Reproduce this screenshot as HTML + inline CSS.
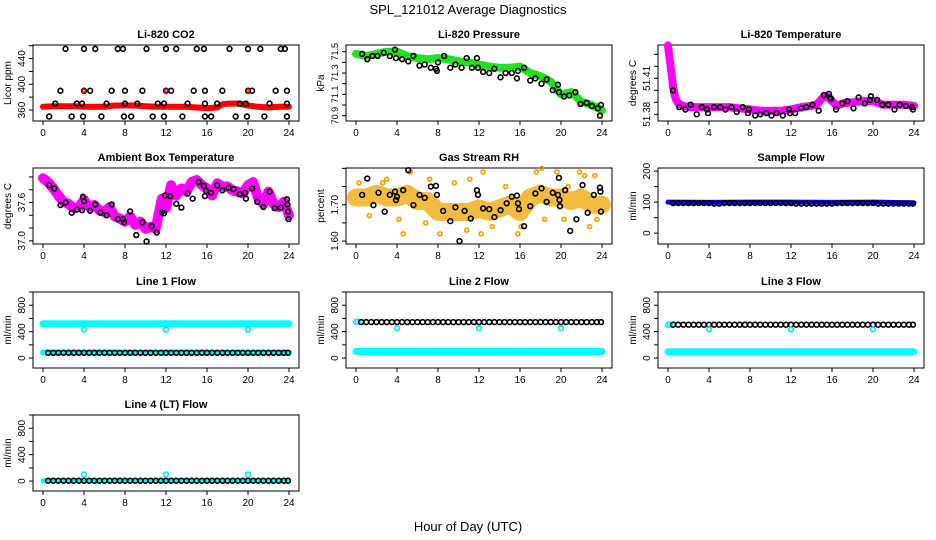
<!DOCTYPE html>
<html><head><meta charset="utf-8">
<style>
html,body{margin:0;padding:0;background:#fff;}
svg{display:block;font-family:"Liberation Sans",sans-serif;}
</style></head>
<body>
<svg id="chart" width="936" height="540" viewBox="0 0 936 540" xmlns="http://www.w3.org/2000/svg">
<rect x="0" y="0" width="936" height="540" fill="#fff"/>
<text x="468" y="14" text-anchor="middle" font-size="13">SPL_121012  Average Diagnostics</text>
<text x="468" y="531" text-anchor="middle" font-size="13">Hour of Day (UTC)</text>
</svg>
<script>
// ---------- DATA ----------
const xTicks = [0,4,8,12,16,20,24];
// CO2
const co2BandT = [0,1,2,3,4,5,6,7,8,9,10,11,12,13,14,15,16,17,17.5,18,19,20,21,22,23,24];
const co2BandV = [365,366,366,366,365,365,365,367,367,367,366,365,365,365,365,364,363,364,369,370,370,367,365,364,365,365];
const co2T = [2.2,4,5.1,7.3,7.8,10.1,12,13,15,15.7,18.2,20,21.2,23.2,23.6,
  1.7,4,4.6,6.7,8,9.7,12,12.5,14.7,15.8,17.5,20,20.4,22.7,23.8,
  1.2,3.3,3.8,6.2,8,9.2,11.2,11.8,14.1,15.8,17,19.2,19.8,22.1,23.8,
  0.6,2.8,3.9,5.7,7.9,8.6,10.7,11.8,13.6,15.8,16.4,18.8,19.9,21.6,23.8];
const co2V = [455,455,455,455,455,455,455,455,455,455,455,455,455,455,455,
  390,390,390,390,390,390,390,390,390,390,390,390,390,390,390,
  370,370,370,370,370,370,370,370,370,370,370,370,370,370,370,
  350,350,350,350,350,350,350,350,350,350,350,350,350,350,350];
const co2RedT = [4,12,20];
const co2RedV = [390,390,390];
// Pressure
const presBandT = [0,1,2,3,4,5,6,7,8,9,10,11,12,13,14,15,16,17,18,19,20,21,22,23,24];
const presBandV = [71.48,71.46,71.48,71.50,71.50,71.46,71.44,71.43,71.44,71.43,71.41,71.40,71.38,71.36,71.35,71.35,71.36,71.30,71.27,71.22,71.10,71.12,71.03,71.00,70.95];
const presT = [0.6,1.1,1.6,2.1,2.7,3.3,3.8,3.9,4.5,5.1,5.6,6.2,6.7,7.3,7.8,7.9,8.0,8.6,9.2,9.7,10.3,10.8,11.3,11.8,11.9,12.4,13.0,13.5,14.1,14.6,15.2,15.7,15.8,16.4,17.0,17.5,18.1,18.6,19.2,19.7,19.8,20.3,20.8,21.4,21.9,22.5,23.0,23.6,23.8,23.9];
const presV = [71.48,71.43,71.46,71.46,71.49,71.46,71.52,71.44,71.43,71.41,71.46,71.37,71.38,71.35,71.34,71.32,71.40,71.46,71.35,71.38,71.35,71.44,71.35,71.44,71.35,71.31,71.30,71.34,71.26,71.30,71.30,71.25,71.32,71.35,71.23,71.25,71.20,71.24,71.14,71.19,71.12,71.08,71.09,71.12,71.01,71.02,70.99,70.97,70.90,71.00];
// Li-820 Temperature
const tempBandT = [0,0.1,0.2,0.3,0.4,0.5,0.6,0.8,1,1.5,2,3,4,5,6,7,8,9,10,11,12,13,14,14.5,15,15.5,16,16.5,17,18,19,19.5,20,21,22,23,24];
const tempBandV = [51.4375,51.43,51.424,51.417,51.41,51.403,51.398,51.392,51.389,51.387,51.386,51.386,51.386,51.386,51.386,51.385,51.384,51.383,51.383,51.383,51.384,51.386,51.387,51.388,51.393,51.395,51.391,51.387,51.389,51.390,51.391,51.391,51.391,51.388,51.388,51.388,51.387];
const tempT = [0.5,1.1,1.7,2.2,2.8,3.3,3.8,3.9,4.5,5.1,5.6,6.2,6.7,7.3,7.8,7.9,8.5,9.0,9.6,10.1,10.6,11.2,11.8,11.9,12.4,13,13.5,14.1,14.7,15.2,15.7,15.8,15.9,16.4,17,17.5,18.1,18.6,19.2,19.7,19.8,20.4,20.9,21.5,22.1,22.6,23.2,23.8,23.9];
const tempV = [51.400,51.386,51.384,51.388,51.380,51.386,51.384,51.381,51.386,51.386,51.384,51.386,51.382,51.386,51.381,51.384,51.379,51.380,51.381,51.379,51.381,51.379,51.384,51.381,51.381,51.385,51.386,51.388,51.383,51.396,51.397,51.394,51.393,51.384,51.389,51.391,51.385,51.394,51.389,51.392,51.395,51.392,51.388,51.388,51.384,51.388,51.387,51.386,51.384];
// Ambient box temperature
const ambBandT = [0,0.5,1,1.5,2,2.5,3,3.5,4,4.5,5,5.5,6,6.5,7,7.5,8,8.5,9,9.5,10,10.5,11,11.3,11.6,12,12.5,13,13.5,14,14.5,15,15.5,16,16.5,17,17.5,18,18.5,19,19.5,20,20.5,21,21.5,22,22.5,23,23.5,24];
const ambBandV = [37.98,37.92,37.82,37.71,37.61,37.58,37.51,37.53,37.64,37.53,37.56,37.48,37.45,37.53,37.38,37.35,37.30,37.38,37.25,37.30,37.19,37.22,37.19,37.43,37.66,37.51,37.87,37.71,37.82,37.77,37.92,37.95,37.87,37.82,37.71,37.90,37.85,37.85,37.79,37.77,37.74,37.87,37.92,37.66,37.58,37.77,37.58,37.53,37.61,37.40];
const ambT = [0.6,1.1,1.7,2.2,2.8,3.3,3.8,3.9,4.0,4.6,5.1,5.6,6.2,6.7,7.3,7.8,7.9,8.5,9.1,9.7,10.1,10.6,11.1,11.6,11.8,11.9,12.4,13,13.5,14.1,14.6,15.2,15.7,15.8,15.9,16.4,17,17.5,18.1,18.6,19.2,19.7,19.8,20.4,20.9,21.5,22.1,22.6,23.2,23.8,23.85,23.9,23.95];
const ambV = [37.87,37.82,37.56,37.60,37.44,37.49,37.48,37.69,37.62,37.47,37.57,37.44,37.40,37.57,37.34,37.34,37.29,37.46,37.09,37.29,36.99,37.23,37.13,37.45,37.43,37.71,37.70,37.58,37.52,37.74,37.66,37.92,37.86,37.70,37.78,37.75,37.87,37.79,37.83,37.81,37.73,37.75,37.66,37.82,37.61,37.53,37.77,37.51,37.52,37.65,37.57,37.46,37.34];
// Gas stream RH
const rhBandT = [0,1,2,3,4,5,6,7,8,9,10,11,12,13,14,15,16,17,18,19,20,21,22,23,24];
const rhBandV = [1.72,1.72,1.73,1.72,1.72,1.73,1.71,1.71,1.68,1.68,1.68,1.68,1.69,1.68,1.69,1.70,1.68,1.72,1.73,1.72,1.72,1.71,1.72,1.70,1.70];
const rhOutT = [4.2,4.6,5.3,6.8,7.2,8.2,9.6,10.8,11.1,12.2,12.4,13.3,14.6,15.8,16.1,17.6,18.1,18.4,19.6,20.3,20.7,21.8,22.3,22.8,23.3,23.5,0.3,1.3,2.6,3.0];
const rhOutV = [1.66,1.62,1.79,1.65,1.77,1.62,1.76,1.63,1.77,1.62,1.79,1.64,1.75,1.62,1.64,1.79,1.80,1.66,1.79,1.66,1.75,1.79,1.78,1.64,1.78,1.66,1.76,1.67,1.76,1.77];
const rhT = [0.6,1.1,1.7,2.2,2.8,3.3,3.8,3.9,4,4.6,5.1,5.6,6.2,6.7,7.3,7.8,7.9,8.5,9.2,9.7,10.1,10.6,11.2,11.8,11.9,12.4,13,13.5,14.1,14.7,15.2,15.7,15.8,15.9,16.4,17,17.5,18.1,18.6,19.2,19.7,19.8,19.85,19.9,20.4,20.9,21.5,22.1,22.6,23.2,23.8,23.85,23.9];
const rhV = [1.727,1.772,1.699,1.733,1.681,1.727,1.736,1.713,1.722,1.740,1.795,1.699,1.727,1.719,1.750,1.752,1.727,1.683,1.655,1.693,1.600,1.683,1.662,1.740,1.727,1.690,1.688,1.666,1.685,1.704,1.722,1.725,1.704,1.688,1.641,1.696,1.731,1.745,1.708,1.733,1.727,1.774,1.713,1.696,1.740,1.628,1.660,1.754,1.678,1.727,1.747,1.736,1.681];
// Flows (shared black-point times)
const flowT = [0.5,1,1.5,2,2.5,3,3.5,4,4.5,5,5.5,6,6.5,7,7.5,8,8.5,9,9.5,10,10.5,11,11.5,12,12.5,13,13.5,14,14.5,15,15.5,16,16.5,17,17.5,18,18.5,19,19.5,20,20.5,21,21.5,22,22.5,23,23.5,23.9];
const sampleBandT = [0,4,8,12,16,20,24];
const sampleBandV = [100,99,100,100,99,100,98];
const sampleV = [97,97,97,97,97,97,97,97,95,95,97,97,97,97,97,97,97,97,97,97,97,97,97,97,95,95,95,95,95,95,95,95,97,97,97,97,97,97,97,97,95,95,95,95,95,95,95,95];
const flowBandT = [0,24];
const l1CyanHi = [520,520];
const l1CyanLo = [85,85];
const l1Black = [80,80,80,80,80,80,80,80,80,80,80,80,80,80,80,80,80,80,80,80,80,80,80,80,80,80,80,80,80,80,80,80,80,80,80,80,80,80,80,80,80,80,80,80,80,80,80,80];
const dipT = [4,12,20];
const l1DipV = [430,430,430];
const l2CyanLo = [100,100];
const l2Black = [545,545,545,545,545,545,545,545,545,545,545,545,545,545,545,545,545,545,545,545,545,545,545,545,545,545,545,545,545,545,545,545,545,545,545,545,545,545,545,545,545,545,545,545,545,545,545,545];
const l2DipV = [450,450,450];
const l2StartT = [0,0.2];
const l2StartV = [550,550];
const l3CyanLo = [95,95];
const l3Black = [505,505,505,505,505,505,505,505,505,505,505,505,505,505,505,505,505,505,505,505,505,505,505,505,505,505,505,505,505,505,505,505,505,505,505,505,505,505,505,505,505,505,505,505,505,505,505,505];
const l3DipV = [435,435,435];
const l3StartT = [0,0.2];
const l3StartV = [505,505];
const l4CyanLo = [5,5];
const l4Black = [5,5,5,5,5,5,5,5,5,5,5,5,5,5,5,5,5,5,5,5,5,5,5,5,5,5,5,5,5,5,5,5,5,5,5,5,5,5,5,5,5,5,5,5,5,5,5,5];
const l4DipV = [100,100,100];

// ---------- DRAWING ----------
const NS = "http://www.w3.org/2000/svg";
const svg = document.getElementById('chart');
const colX0 = [43,356,668], rowTop = [45,168,292,415], SPAN = 246, H = 76;
function mk(tag, attrs, parent){ const e=document.createElementNS(NS,tag); for(const k in attrs) e.setAttribute(k,attrs[k]); (parent||svg).appendChild(e); return e; }

function panel(col,row,name,title,ylab,ymin,ymax,ticks,labels,labelText,fs){
  const g = mk('g',{});
  
  
  const x0=colX0[col], top=rowTop[row], bot=top+H, left=x0-10, right=x0+SPAN+10;
  const sx = t => x0 + t/24*SPAN;
  const sy = v => bot - (v-ymin)/(ymax-ymin)*H;
  const box = mk('rect',{x:left,y:top,width:right-left,height:H,fill:'none',stroke:'#000','stroke-width':1},g);
  
  
  const tt = mk('text',{x:(left+right)/2,y:top-7,'text-anchor':'middle','font-size':11,'font-weight':'bold'},g);
  tt.textContent = title;
  
  
  const yl = mk('text',{x:left-22,y:(top+bot)/2,'text-anchor':'middle','font-size':10,transform:`rotate(-90 ${left-22} ${(top+bot)/2})`},g);
  yl.textContent = ylab;
  
  
  xTicks.forEach(t=>{
    mk('line',{x1:sx(t),x2:sx(t),y1:bot,y2:bot+4,stroke:'#000'},g);
    const lb = mk('text',{x:sx(t),y:bot+15,'text-anchor':'middle','font-size':10},g);
    lb.textContent = t;
    
    
  });
  ticks.forEach(v=>{ mk('line',{x1:left-4,x2:left,y1:sy(v),y2:sy(v),stroke:'#000'},g); });
  labels.forEach((v,i)=>{
    const lb = mk('text',{x:left-8,y:sy(v),'text-anchor':'middle','font-size':fs||10,transform:`rotate(-90 ${left-8} ${sy(v)})`},g);
    lb.textContent = labelText[i];
    
    
  });
  return {g,sx,sy};
}
function band(p,ts,vs,color,w,name,op){
  const pts = ts.map((t,i)=>p.sx(t).toFixed(1)+','+p.sy(vs[i]).toFixed(1)).join(' ');
  const e = mk('polyline',{points:pts,fill:'none',stroke:color,'stroke-width':w,'stroke-linejoin':'round','stroke-linecap':'round','stroke-opacity':op||1},p.g);
  
  
}
function pts(p,ts,vs,color,name,r){
  ts.forEach((t,i)=>{
    const c = mk('circle',{cx:p.sx(t),cy:p.sy(vs[i]),r:r||2.4,fill:'none',stroke:color,'stroke-width':1.6},p.g);
    
    
  });
}

// CO2
let p = panel(0,0,'co2','Li-820 CO2','Licor ppm',343,461,[360,380,400,420,440,460],[360,400,440],['360','400','440']);
band(p,co2BandT,co2BandV,'#ff0000',6,'co2-red-band');
pts(p,co2T,co2V,'#000','co2-point');
pts(p,co2RedT,co2RedV,'#ff0000','co2-red-point',1.6);
// Pressure
p = panel(1,0,'pressure','Li-820 Pressure','kPa',70.850,71.563,[70.9,71.0,71.1,71.2,71.3,71.4,71.5],[70.9,71.1,71.3,71.5],['70.9','71.1','71.3','71.5'],9);
band(p,presBandT,presBandV,'#22e022',8,'pressure-green-band');
pts(p,presT,presV,'#000','pressure-point');
// Temperature
p = panel(2,0,'li820-temp','Li-820 Temperature','degrees C',51.3744,51.4378,[51.38,51.39,51.40,51.41,51.42,51.43],[51.38,51.41],['51.38','51.41']);
band(p,tempBandT,tempBandV,'#ff00ff',8,'temp-magenta-band');
pts(p,tempT,tempV,'#000','temp-point');
// Ambient
p = panel(0,1,'ambient','Ambient Box Temperature','degrees C',36.95,38.14,[37.0,37.2,37.4,37.6,37.8,38.0],[37.0,37.6],['37.0','37.6']);
band(p,ambBandT,ambBandV,'#ff00ff',10,'ambient-magenta-band');
pts(p,ambT,ambV,'#000','ambient-point');
// RH
p = panel(1,1,'rh','Gas Stream RH','percent',1.592,1.801,[1.60,1.65,1.70,1.75,1.80],[1.60,1.70],['1.60','1.70']);
band(p,rhBandT,rhBandV,'#f0b020',18,'rh-orange-band',0.85);
pts(p,rhOutT,rhOutV,'#f0a000','rh-orange-point',2);
pts(p,rhT,rhV,'#000','rh-point');
// Sample Flow
p = panel(2,1,'sample-flow','Sample Flow','ml/min',-35,210,[0,50,100,150,200],[0,100,200],['0','100','200']);
band(p,sampleBandT,sampleBandV,'#0000ff',5,'sample-blue-band');
pts(p,flowT,sampleV,'#000','sample-point');
const fTicks=[0,200,400,600,800,1000], fLab=[0,400,800], fLabT=['0','400','800'];
// Line 1
p = panel(0,2,'line1','Line 1 Flow','ml/min',-150,1000,fTicks,fLab,fLabT);
band(p,flowBandT,l1CyanHi,'#00ffff',7,'line1-cyan-high-band');
band(p,flowBandT,l1CyanLo,'#00ffff',6,'line1-cyan-low-band');
pts(p,flowT,l1Black,'#000','line1-point');
pts(p,dipT,l1DipV,'#00e8e8','line1-cyan-dip');
// Line 2
p = panel(1,2,'line2','Line 2 Flow','ml/min',-150,1000,fTicks,fLab,fLabT);
band(p,flowBandT,l2CyanLo,'#00ffff',7,'line2-cyan-low-band');
pts(p,l2StartT,l2StartV,'#00ffff','line2-cyan-start');
pts(p,flowT,l2Black,'#000','line2-point');
pts(p,dipT,l2DipV,'#00e8e8','line2-cyan-dip');
// Line 3
p = panel(2,2,'line3','Line 3 Flow','ml/min',-150,1000,fTicks,fLab,fLabT);
band(p,flowBandT,l3CyanLo,'#00ffff',7,'line3-cyan-low-band');
pts(p,l3StartT,l3StartV,'#00ffff','line3-cyan-start');
pts(p,flowT,l3Black,'#000','line3-point');
pts(p,dipT,l3DipV,'#00e8e8','line3-cyan-dip');
// Line 4
p = panel(0,3,'line4','Line 4 (LT) Flow','ml/min',-150,1000,fTicks,fLab,fLabT);
band(p,flowBandT,l4CyanLo,'#00ffff',5,'line4-cyan-band');
pts(p,flowT,l4Black,'#000','line4-point');
pts(p,dipT,l4DipV,'#00e8e8','line4-cyan-dip');
</script>
</body></html>
